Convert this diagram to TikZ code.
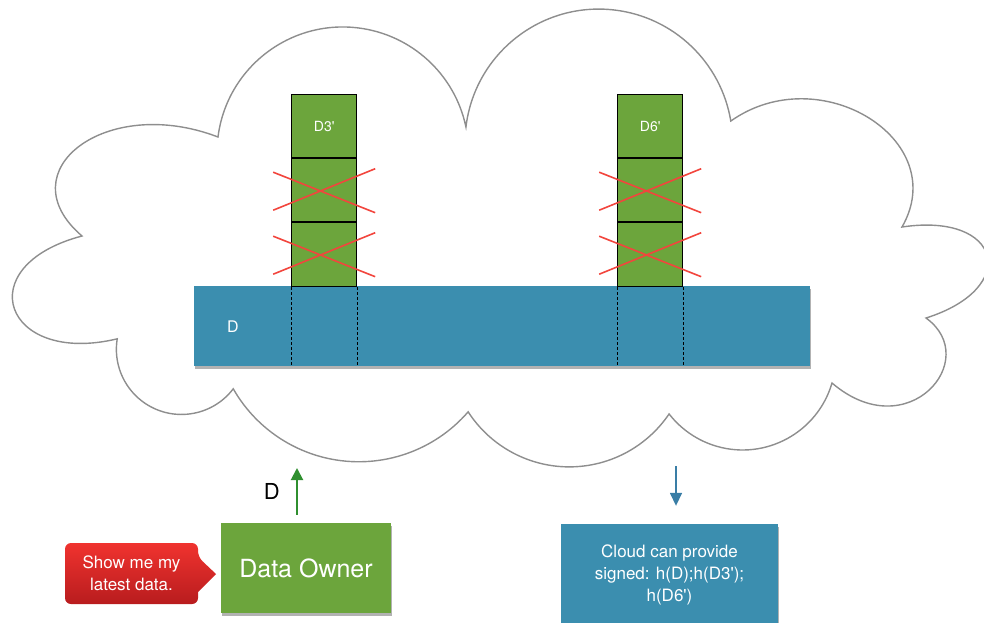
\documentclass[tikz,border=0pt]{standalone}
\usepackage{fontspec}
\setmainfont{TeX Gyre Heros}
\usetikzlibrary{arrows.meta, positioning, calc, shadows}

\definecolor{grassgreen}{HTML}{6CA53C}
\definecolor{seablue}{HTML}{3B8EAF}
\definecolor{strikered}{HTML}{F2453D}
\definecolor{cloudgray}{HTML}{8E8E8E}
\definecolor{calltop}{HTML}{F0332F}
\definecolor{callbottom}{HTML}{B81C1E}
\definecolor{upgreen}{HTML}{2F8F2F}
\definecolor{downblue}{HTML}{3A7EA6}
\newcommand{\prm}{\textquotesingle}

\begin{document}
\begin{tikzpicture}[
    x=1pt, y=-1pt,
    cloud line/.style={draw=cloudgray, line width=1.4pt}, % outline of the cloud
    soft shadow/.style={drop shadow={shadow xshift=0.5pt, shadow yshift=-3pt, opacity=0.3, fill=black}},
    cell/.style={draw=black, fill=grassgreen, line width=1.4pt, inner sep=0pt,
        minimum width=65pt, minimum height=64pt, anchor=north west,
        text=white, font=\fontsize{14}{16}\selectfont},
    bar/.style={fill=seablue, inner sep=0pt, minimum width=616pt, minimum height=80pt,
        anchor=north west, soft shadow},
    divider/.style={black, line width=1pt, dash pattern=on 3pt off 2pt},
    seam/.style={black, line width=2.6pt},
    strike/.style={strikered, line width=1.6pt}, % red crosses on old versions
    owner box/.style={fill=grassgreen, minimum width=170pt, minimum height=90pt,
        text=white, font=\fontsize{25}{30}\selectfont, soft shadow},
    reply box/.style={fill=seablue, minimum width=217pt, minimum height=102pt, align=center,
        text=white, font=\fontsize{17}{22}\selectfont, soft shadow},
    up arrow/.style={-{Triangle[length=12pt, width=12pt]}, upgreen, line width=2pt},
    down arrow/.style={-{Triangle[length=13pt, width=12pt]}, downblue, line width=1.6pt}
]

    \useasboundingbox (0,0) rectangle (984,622);

    % === Cloud ===
    \draw[cloud line] (218,137)
        arc[start angle=187.2, end angle=348.2, radius=125.8]
        arc[start angle=186.8, end angle=350.6, radius=133.8]
        .. controls (820,58) and (952,140) .. (902,227)
        .. controls (1002,212) and (1021,288) .. (926,318)
        .. controls (983,359) and (908,448) .. (832,383)
        arc[start angle=16.3, end angle=142.2, radius=93.1]
        arc[start angle=34.1, end angle=147.1, radius=120.5]
        arc[start angle=40.9, end angle=150.3, radius=144.6]
        arc[start angle=37.3, end angle=189.3, radius=65.1]
        .. controls (4,366) and (-32,266) .. (82,236)
        .. controls (6,171) and (106,94) .. (218,137) -- cycle;

    % === Stored data D ===
    \node[bar] (base) at (194,286) {};
    \node[text=white, font=\fontsize{16}{18}\selectfont] (base_label) at ([xshift=39pt]base.west) {D};

    % === Updated blocks D3' and D6' ===
    \foreach \col/\cx/\lab in {d3/291/D3\prm, d6/617/D6\prm} {
        \node[cell] (\col_new) at (\cx,94) {\lab};
        \node[cell] (\col_old_a) at (\cx,158) {};
        \node[cell] (\col_old_b) at (\cx,222) {};
        \draw[seam] (\col_old_a.north west) -- (\col_old_a.north east);
        \draw[seam] (\col_old_b.north west) -- (\col_old_b.north east);
        \draw[divider] (\col_old_b.south west) -- (\col_old_b.south west |- base.south);
        \draw[divider] (\col_old_b.south east) -- (\col_old_b.south east |- base.south);
    }

    % === Crossed out old versions ===
    \foreach \c in {d3_old_a, d3_old_b, d6_old_a, d6_old_b} {
        \draw[strike] ($(\c.center)+(-51,-18.5)$) -- ($(\c.center)+(51,22)$);
        \draw[strike] ($(\c.center)+(-51,19.5)$) -- ($(\c.center)+(51,-22)$);
    }

    % === Data owner and request ===
    \node[owner box] (owner) at (306,568) {Data Owner};
    \shade[top color=calltop, bottom color=callbottom]
        [rounded corners=6pt] (65,543) -- (198,543) -- (198,557)
        [sharp corners] -- (216,574) -- (198,592)
        [rounded corners=6pt] -- (198,604) -- (65,604) -- cycle;
    \node[text=white, align=center, font=\fontsize{17}{22}\selectfont] (request) at (131.5,573.5)
        {Show me my\\latest data.};

    % === Upload arrow ===
    \coordinate (upload_tip) at (297,468);
    \draw[up arrow] ([xshift=-9pt, yshift=8pt]owner.north) -- (upload_tip)
        node[midway, left=13pt, text=black, font=\fontsize{22}{24}\selectfont] (upload_label) {D};

    % === Cloud reply ===
    \node[reply box] (reply) at (669.5,575) {Cloud can provide\\signed: h(D);h(D3\prm);\\h(D6\prm)};
    \coordinate (proof_start) at (676,466);
    \draw[down arrow] (proof_start) -- ([xshift=6.5pt, yshift=18pt]reply.north);

\end{tikzpicture}
\end{document}
